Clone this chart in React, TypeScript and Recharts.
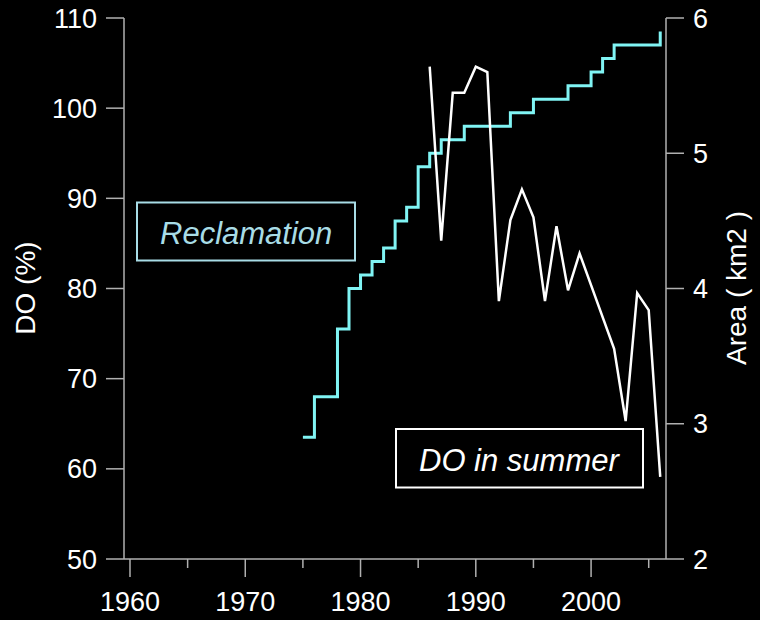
import React from 'react';
import { ComposedChart, Line, XAxis, YAxis } from 'recharts';

// reclamation area (km2), step changes by year
const areaYears = [1975, 1976, 1978, 1979, 1980, 1981, 1982, 1983, 1984, 1985, 1986, 1987, 1989, 1993, 1995, 1998, 2000, 2001, 2002, 2006];
const areaValues = [2.9, 3.2, 3.7, 4.0, 4.1, 4.2, 4.3, 4.5, 4.6, 4.9, 5.0, 5.1, 5.2, 5.3, 5.4, 5.5, 5.6, 5.7, 5.8, 5.9];

// dissolved oxygen in summer (%)
const doYears = [1986, 1987, 1988, 1989, 1990, 1991, 1992, 1993, 1994, 1995, 1996, 1997, 1998, 1999, 2002, 2003, 2004, 2005, 2006];
const doValues = [104.6, 85.3, 101.7, 101.7, 104.6, 104.0, 78.6, 87.6, 91.0, 87.9, 78.6, 86.9, 79.8, 83.9, 73.3, 65.3, 79.5, 77.6, 59.1];

const xTicks = [1960, 1965, 1970, 1975, 1980, 1985, 1990, 1995, 2000, 2005];
const doTicks = [50, 60, 70, 80, 90, 100, 110];
const areaTicks = [2, 3, 4, 5, 6];

const areaData = areaYears.map((year, i) => ({ year, area: areaValues[i] }));
const doData = doYears.map((year, i) => ({ year, dO: doValues[i] }));

const FONT = '"Liberation Sans", Arial, sans-serif';
const AXIS = '#b0b0b0';
const CYAN = '#80f4f4';
const PALE = '#a8dce6';

function XTick(props: any) {
  const { x, y, payload } = props;
  const major = payload.value % 10 === 0;
  return (
    <g>
      <line x1={x} y1={y} x2={x} y2={y + (major ? 18 : 9)} stroke={AXIS} strokeWidth={1.5} />
      {major && (
        <text x={x} y={y + 52} textAnchor="middle" fill="#fff" fontSize={27} fontFamily={FONT}>
          {payload.value}
        </text>
      )}
    </g>
  );
}

export default function App() {
  return (
    <div style={{ position: 'absolute', left: 0, top: 0, width: 760, height: 620, background: '#000' }}>
      <ComposedChart width={760} height={620} margin={{ top: 18, right: 0, bottom: 0, left: 0 }}>
        <XAxis
          dataKey="year"
          type="number"
          domain={[1959.48, 2006.5]}
          allowDataOverflow
          ticks={xTicks}
          interval={0}
          height={61}
          axisLine={{ stroke: AXIS, strokeWidth: 1.5 }}
          tickLine={false}
          tickSize={0}
          tickMargin={0}
          tick={<XTick />}
        />
        <YAxis
          yAxisId="do"
          orientation="left"
          width={124}
          domain={[50, 110]}
          ticks={doTicks}
          interval={0}
          tickSize={18}
          tickMargin={9}
          axisLine={{ stroke: AXIS, strokeWidth: 1.5 }}
          tickLine={{ stroke: AXIS, strokeWidth: 1.5 }}
          tick={{ fill: '#fff', fontSize: 27, fontFamily: FONT }}
        />
        <YAxis
          yAxisId="area"
          orientation="right"
          width={94}
          domain={[2, 6]}
          ticks={areaTicks}
          interval={0}
          tickSize={18}
          tickMargin={9}
          axisLine={{ stroke: AXIS, strokeWidth: 1.5 }}
          tickLine={{ stroke: AXIS, strokeWidth: 1.5 }}
          tick={{ fill: '#fff', fontSize: 27, fontFamily: FONT }}
        />
        <Line
          yAxisId="area"
          data={areaData}
          dataKey="area"
          type="stepAfter"
          stroke={CYAN}
          strokeWidth={3}
          dot={false}
          activeDot={false}
          isAnimationActive={false}
        />
        <Line
          yAxisId="do"
          data={doData}
          dataKey="dO"
          type="linear"
          stroke="#fff"
          strokeWidth={2.5}
          dot={false}
          activeDot={false}
          isAnimationActive={false}
        />
      </ComposedChart>
      <svg width={760} height={620} style={{ position: 'absolute', left: 0, top: 0, pointerEvents: 'none' }}>
        <text transform="rotate(-90 35 288)" x={35} y={288} textAnchor="middle" fill="#fff" fontSize={28} fontFamily={FONT}>
          DO (%)
        </text>
        <text transform="rotate(-90 746 288)" x={746} y={288} textAnchor="middle" fill="#fff" fontSize={28} fontFamily={FONT}>
          Area ( km2 )
        </text>
        <rect x={137} y={202.5} width={218} height={58} fill="none" stroke={PALE} strokeWidth={2} />
        <text x={160} y={244} fill={PALE} fontSize={31} fontStyle="italic" fontFamily={FONT}>
          Reclamation
        </text>
        <rect x={396} y={429} width={247} height={58.5} fill="none" stroke="#fff" strokeWidth={2} />
        <text x={419} y={471} fill="#fff" fontSize={31} fontStyle="italic" fontFamily={FONT}>
          DO in summer
        </text>
      </svg>
    </div>
  );
}
